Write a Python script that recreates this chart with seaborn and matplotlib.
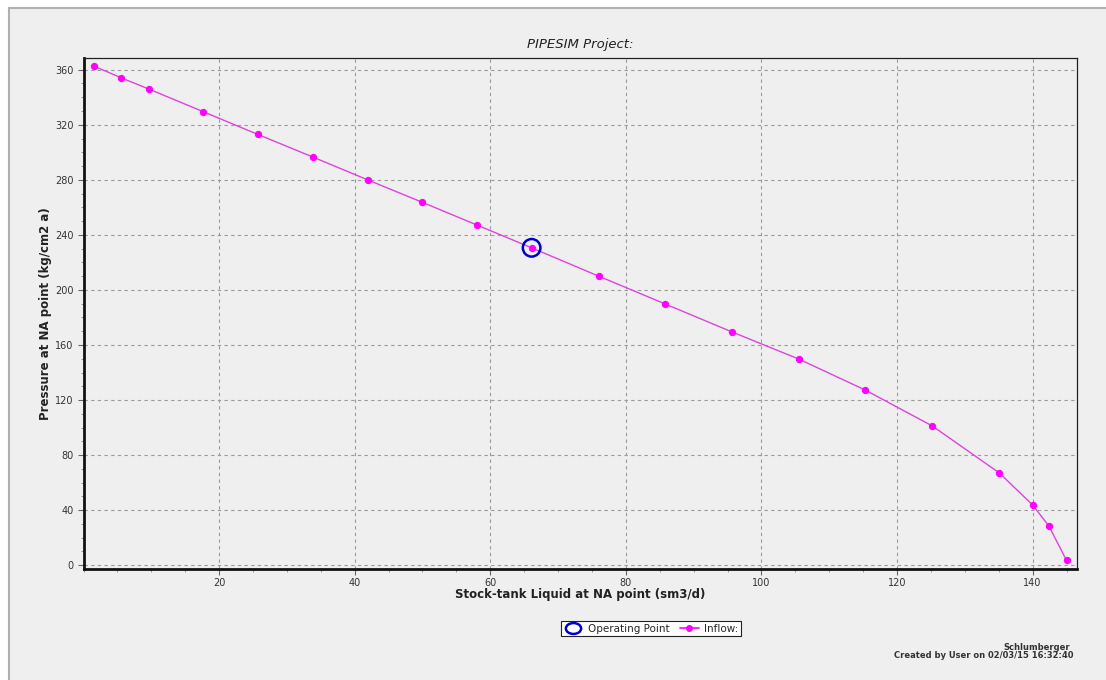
import matplotlib
matplotlib.use("Agg")
import matplotlib.pyplot as plt
import matplotlib.patches as mpatches
from matplotlib.lines import Line2D
from matplotlib.path import Path
from matplotlib.transforms import Affine2D
from matplotlib.ticker import MultipleLocator
import seaborn as sns
import pandas as pd

# ---- data ----
liquid_rate = [1.5, 5.6, 9.6, 17.7, 25.7, 33.8, 41.9, 50.0, 58.1, 66.1,
               76.0, 85.8, 95.7, 105.5, 115.3, 125.2, 135.1, 140.0, 142.4, 145.0]
pressure = [362.7, 354.0, 346.0, 329.4, 313.0, 296.6, 280.0, 263.6, 247.0, 230.6,
            210.0, 189.8, 169.4, 149.8, 127.3, 101.2, 67.0, 43.8, 28.5, 3.5]
op_rate = [66.1]
op_pressure = [230.6]

x_ticks = [20, 40, 60, 80, 100, 120, 140]
y_ticks = [0, 40, 80, 120, 160, 200, 240, 280, 320, 360]

title = "PIPESIM Project:"
x_label = "Stock-tank Liquid at NA point (sm3/d)"
y_label = "Pressure at NA point (kg/cm2 a)"
legend_labels = ["Operating Point", "Inflow:"]
footer1 = "Schlumberger"
footer2 = "Created by User on 02/03/15 16:32:40"

inflow = pd.DataFrame({"rate": liquid_rate, "pressure": pressure})
oper = pd.DataFrame({"rate": op_rate, "pressure": op_pressure})

sns.set_style("ticks")
plt.rcParams["font.family"] = ["DejaVu Sans"]

BG = "#efefef"
MAG = "#ff00ff"
LINE = "#dd44dd"
BLUE = "#0000cc"

fig = plt.figure(figsize=(11.06, 6.8), dpi=100)
fig.patch.set_facecolor("white")
# panel with a gray border
fig.patches.append(mpatches.Rectangle((9 / 1106, -0.05), 1.2, 1 - 8 / 680 + 0.05,
                                      transform=fig.transFigure, facecolor=BG,
                                      edgecolor="#b0b0b0", linewidth=1.5, zorder=-10))

ax = fig.add_axes([83.5 / 1106, 1 - 568.7 / 680, (1076.7 - 83.5) / 1106, (568.7 - 57.7) / 680])
ax.set_facecolor(BG)

sns.lineplot(data=inflow, x="rate", y="pressure", ax=ax, color=LINE, linewidth=1.0,
             marker="o", markersize=4.5, markerfacecolor=MAG, markeredgecolor=MAG,
             zorder=3, legend=False)
sns.scatterplot(data=oper, x="rate", y="pressure", ax=ax, s=160, facecolor="none",
                edgecolor=BLUE, linewidth=1.8, zorder=4, legend=False)

ax.set_xlim(0, 146.5)
ax.set_ylim(-2.5, 368.7)
ax.set_xticks(x_ticks)
ax.set_yticks(y_ticks)
ax.xaxis.set_minor_locator(MultipleLocator(5))
ax.yaxis.set_minor_locator(MultipleLocator(10))
ax.tick_params(axis="both", which="major", length=4, width=0.8, color="#666666",
               labelsize=7, labelcolor="#333333", pad=3)
ax.tick_params(axis="both", which="minor", length=2, width=0.6, color="#888888")
ax.grid(True, which="major", color="#9a9a9a", linestyle=(0, (3, 3)), linewidth=0.8)

for side in ["top", "right"]:
    ax.spines[side].set_visible(True)
    ax.spines[side].set_linewidth(0.9)
    ax.spines[side].set_color("#222222")
for side in ["left", "bottom"]:
    ax.spines[side].set_linewidth(2.0)
    ax.spines[side].set_color("#111111")

ax.set_title(title, fontsize=9.5, style="italic", color="#222222", pad=7)
ax.set_xlabel(x_label, fontsize=8.5, fontweight="bold", color="#222222", labelpad=0)
ax.set_ylabel(y_label, fontsize=8.5, fontweight="bold", color="#222222", labelpad=2)

ellipse = Path.unit_circle().transformed(Affine2D().scale(1.4, 1.0))
handles = [
    Line2D([], [], linestyle="none", marker=ellipse, markersize=11, markerfacecolor="none",
           markeredgecolor=BLUE, markeredgewidth=1.8),
    Line2D([], [], color=MAG, linewidth=1.2, marker="o", markersize=4,
           markerfacecolor=MAG, markeredgecolor=MAG),
]
leg = fig.legend(handles, legend_labels, loc="center", ncol=2,
                 bbox_to_anchor=(651 / 1106, 1 - 628.5 / 680), fontsize=7.5,
                 frameon=True, fancybox=False, framealpha=1, edgecolor="#222222",
                 handlelength=1.8, handletextpad=0.5, columnspacing=1.0,
                 borderpad=0.25, markerscale=1.0)
leg.get_frame().set_linewidth(0.8)
leg.get_frame().set_facecolor("white")

fig.text(1070 / 1106, 1 - 647 / 680, footer1, ha="right", va="center",
         fontsize=6, fontweight="bold", color="#333333")
fig.text(1073 / 1106, 1 - 655.5 / 680, footer2, ha="right", va="center",
         fontsize=6, fontweight="bold", color="#333333")

fig.savefig("out.png", dpi=100, facecolor=fig.get_facecolor())
